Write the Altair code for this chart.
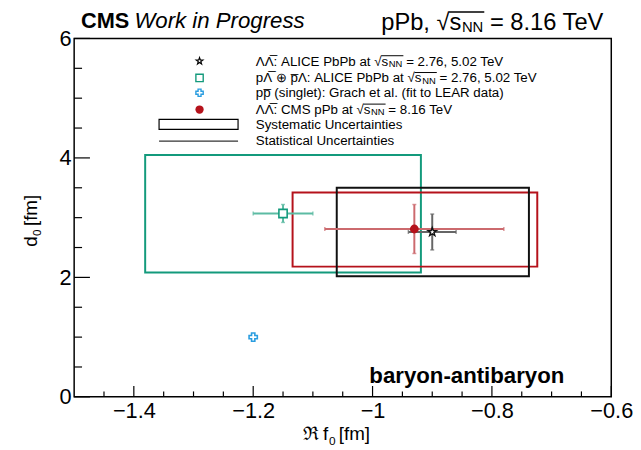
import altair as alt
import pandas as pd

FONT = "Liberation Sans"

# ---------------- data ----------------
names = ["ALICE LL", "ALICE pL", "Grach pp", "CMS LL"]
f0 = [-0.90, -1.15, -1.20, -0.93]
d0 = [2.76, 3.07, 1.00, 2.81]
# statistical uncertainties (absolute)
f0_stat = [0.04, 0.05, 0.0, 0.15]
d0_stat = [0.30, 0.15, 0.0, 0.41]
# systematic boxes (low / high)
sys_names = ["ALICE pL", "CMS LL", "ALICE LL"]
sys_f0_lo = [-1.381, -1.134, -1.060]
sys_f0_hi = [-0.919, -0.724, -0.738]
sys_d0_lo = [2.08, 2.18, 2.02]
sys_d0_hi = [4.05, 3.42, 3.50]

x_major = [-1.4, -1.2, -1.0, -0.8, -0.6]
x_minor = [-1.45, -1.35, -1.3, -1.25, -1.15, -1.1, -1.05, -0.95, -0.9, -0.85, -0.75, -0.7, -0.65]
y_major = [0, 2, 4, 6]
y_minor = [0.5, 1, 1.5, 2.5, 3, 3.5, 4.5, 5, 5.5]

# ---------------- styling ----------------
COL = {"ALICE LL": "#111111", "ALICE pL": "#139a7c", "Grach pp": "#2a9de0", "CMS LL": "#b5121b"}
BAR = {"ALICE LL": "#666666", "ALICE pL": "#5cbba3", "Grach pp": "#2a9de0", "CMS LL": "#cc6a6e"}
STAR = "M0,-1L0.235,-0.324L0.951,-0.309L0.380,0.124L0.588,0.809L0,0.4L-0.588,0.809L-0.380,0.124L-0.951,-0.309L-0.235,-0.324Z"

W, H = 544, 363
xs = alt.Scale(domain=[-1.5, -0.6], nice=False, zero=False)
ys = alt.Scale(domain=[0, 6], nice=False, zero=False)
AX = alt.Axis(values=x_major, ticks=False, domain=False, grid=False, labelFontSize=22, labelFont=FONT,
              labelColor="black", format="~g", labelPadding=4, labelFlush=False, labelOverlap=False, title=None)
AY = alt.Axis(values=y_major, ticks=False, domain=False, grid=False, labelFontSize=22, labelFont=FONT,
              labelColor="black", labelPadding=3, labelFlush=False, labelOverlap=False, title=None)

df = pd.DataFrame({"name": names, "f0": f0, "d0": d0})
df["xlo"] = [a - b for a, b in zip(f0, f0_stat)]
df["xhi"] = [a + b for a, b in zip(f0, f0_stat)]
df["ylo"] = [a - b for a, b in zip(d0, d0_stat)]
df["yhi"] = [a + b for a, b in zip(d0, d0_stat)]
sysdf = pd.DataFrame({"name": sys_names, "xlo": sys_f0_lo, "xhi": sys_f0_hi,
                      "ylo": sys_d0_lo, "yhi": sys_d0_hi})

X = lambda f: alt.X(f, type="quantitative", scale=xs, axis=AX)
Y = lambda f: alt.Y(f, type="quantitative", scale=ys, axis=AY)

one = pd.DataFrame({"k": [0]})
layers = []

# inward ticks
xmaj = pd.DataFrame({"v": x_major})
xmin = pd.DataFrame({"v": x_minor})
ymaj = pd.DataFrame({"v": y_major})
ymin = pd.DataFrame({"v": y_minor})
layers.append(alt.Chart(xmaj).mark_rule(color="black", strokeWidth=1.2).encode(x=X("v"), y=alt.value(H), y2=alt.value(H - 11)))
layers.append(alt.Chart(xmin).mark_rule(color="black", strokeWidth=1.2).encode(x=X("v"), y=alt.value(H), y2=alt.value(H - 5.5)))
layers.append(alt.Chart(ymaj).mark_rule(color="black", strokeWidth=1.2).encode(y=Y("v"), x=alt.value(0), x2=alt.value(16)))
layers.append(alt.Chart(ymin).mark_rule(color="black", strokeWidth=1.2).encode(y=Y("v"), x=alt.value(0), x2=alt.value(8)))

# systematic boxes
for n in sys_names:
    layers.append(alt.Chart(sysdf[sysdf.name == n]).mark_rect(filled=False, stroke=COL[n], strokeWidth=2).encode(
        x=X("xlo"), x2="xhi", y=Y("ylo"), y2="yhi"))

# statistical error bars with caps
for n in ["ALICE pL", "CMS LL", "ALICE LL"]:
    d = df[df.name == n]
    layers.append(alt.Chart(d).mark_rule(color=BAR[n], strokeWidth=2).encode(x=X("xlo"), x2="xhi", y=Y("d0")))
    layers.append(alt.Chart(d).mark_rule(color=BAR[n], strokeWidth=2).encode(x=X("f0"), y=Y("ylo"), y2="yhi"))
    for f in ["xlo", "xhi"]:
        layers.append(alt.Chart(d).mark_tick(color=BAR[n], orient="vertical", size=4, thickness=1.5).encode(x=X(f), y=Y("d0")))
    for f in ["ylo", "yhi"]:
        layers.append(alt.Chart(d).mark_tick(color=BAR[n], orient="horizontal", size=4, thickness=1.5).encode(x=X("f0"), y=Y(f)))

# markers
layers.append(alt.Chart(df[df.name == "ALICE pL"]).mark_point(shape="square", filled=True, fill="white", stroke=COL["ALICE pL"], strokeWidth=1.6, size=70, opacity=1).encode(x=X("f0"), y=Y("d0")))
layers.append(alt.Chart(df[df.name == "Grach pp"]).mark_point(shape="cross", filled=True, fill="white", stroke=COL["Grach pp"], strokeWidth=1.6, size=70, opacity=1).encode(x=X("f0"), y=Y("d0")))
layers.append(alt.Chart(df[df.name == "CMS LL"]).mark_point(shape="circle", filled=True, fill=COL["CMS LL"], strokeWidth=0, size=80, opacity=1).encode(x=X("f0"), y=Y("d0")))
layers.append(alt.Chart(df[df.name == "ALICE LL"]).mark_point(shape=STAR, filled=True, fill="white", stroke=COL["ALICE LL"], strokeWidth=1.4, size=80, opacity=1).encode(x=X("f0"), y=Y("d0")))

# ---------------- texts (pixel layout) ----------------
OX, OY = 75, 36  # page position of the plot origin

AW = {" ": 278, "!": 278, "(": 333, ")": 333, ",": 278, "-": 333, ".": 278, ":": 278, "=": 584, "[": 278, "]": 278,
      "Λ": 667, "⊕": 838, "√": 549, "\u0305": 0}
for c in "0123456789":
    AW[c] = 556
AW.update(dict(zip("ABCDEFGHIJKLMNOPQRSTUVWXYZ",
                   [667, 667, 722, 722, 667, 611, 778, 722, 278, 500, 667, 556, 833, 722, 778, 667, 778, 722, 667, 611, 722, 667, 944, 667, 667, 611])))
AW.update(dict(zip("abcdefghijklmnopqrstuvwxyz",
                   [556, 556, 500, 556, 556, 278, 556, 556, 222, 222, 500, 222, 833, 556, 556, 556, 556, 333, 500, 278, 556, 500, 722, 500, 500, 500])))


def tw(s, size):
    return sum(AW.get(c, 600) for c in s) * size / 1000.0


def txt(text, x, y, size, weight="normal", style="normal", align="left", angle=0, baseline="alphabetic", color="black"):
    return alt.Chart(one).mark_text(text=text, align=align, baseline=baseline, fontSize=size, fontWeight=weight,
                                    fontStyle=style, font=FONT, angle=angle, color=color).encode(
        x=alt.value(x - OX), y=alt.value(y - OY))


def hbar(x1, x2, y, color="black", w=1):
    return alt.Chart(one).mark_rule(color=color, strokeWidth=w).encode(
        x=alt.value(x1 - OX), x2=alt.value(x2 - OX), y=alt.value(y - OY))


def sqrt_line(pre, x, y, size, subsize, subdy, post):
    """text 'pre' ending in '√s', subscript NN, then 'post'"""
    out = [txt(pre, x, y, size)]
    xs_end = x + tw(pre, size)
    out.append(txt("NN", xs_end + 0.5, y + subdy, subsize))
    nn_end = xs_end + 0.5 + tw("NN", subsize)
    out.append(txt(post, nn_end + 0.28 * size, y, size))
    x_root = x + tw(pre[:-1], size)  # right edge of √
    out.append(hbar(x_root - 0.5, nn_end + 1, y - 0.74 * size, w=max(1, size / 15)))
    return out


# header
layers.append(txt("CMS", 82, 25, 22, weight="bold"))
layers.append(txt("Work in Progress", 136, 25, 22.5, style="italic"))
layers += sqrt_line("pPb, √s", 386, 27, 24, 15, 2.5, "= 8.16 TeV")

# legend
LS = 13.5
LX = 259
rows = [59, 76, 91, 108, 123, 139]
bl = [r + 4.5 for r in rows]
layers += sqrt_line("ΛΛ̅: ALICE PbPb at √s", LX, bl[0], LS, 9.5, 1.5, "= 2.76, 5.02 TeV")
layers += sqrt_line("pΛ̅ ⊕ p̅Λ: ALICE PbPb at √s", LX, bl[1], LS, 9.5, 1.5, "= 2.76, 5.02 TeV")
layers.append(txt(" pp̅ (singlet): Grach et al. (fit to LEAR data)", LX, bl[2], LS))
layers += sqrt_line("ΛΛ̅: CMS pPb at √s", LX, bl[3], LS, 9.5, 1.5, "= 8.16 TeV")
layers.append(txt("Systematic Uncertainties", LX, bl[4], LS))
layers.append(txt("Statistical Uncertainties", LX, bl[5], LS))

MX = 202
layers.append(alt.Chart(one).mark_point(shape=STAR, filled=True, fill="white", stroke="black", strokeWidth=1.2, size=50, opacity=1).encode(x=alt.value(MX - OX), y=alt.value(rows[0] - OY)))
layers.append(alt.Chart(one).mark_point(shape="square", filled=True, fill="white", stroke=COL["ALICE pL"], strokeWidth=1.4, size=55, opacity=1).encode(x=alt.value(MX - OX), y=alt.value(rows[1] - OY)))
layers.append(alt.Chart(one).mark_point(shape="cross", filled=True, fill="white", stroke=COL["Grach pp"], strokeWidth=1.4, size=55, opacity=1).encode(x=alt.value(MX - OX), y=alt.value(rows[2] - OY)))
layers.append(alt.Chart(one).mark_point(shape="circle", filled=True, fill=COL["CMS LL"], strokeWidth=0, size=70, opacity=1).encode(x=alt.value(MX - OX), y=alt.value(rows[3] - OY)))
layers.append(alt.Chart(one).mark_rect(filled=False, stroke="black", strokeWidth=1.2).encode(
    x=alt.value(161 - OX), x2=alt.value(241 - OX), y=alt.value(118 - OY), y2=alt.value(128 - OY)))
layers.append(hbar(161, 241, 140, color="#333333", w=1.2))

# in-plot label
layers.append(txt("baryon-antibaryon", 374, 385, 22.5, weight="bold"))

# axis titles
layers.append(txt("ℜ", 307, 443, 19))
layers.append(txt("f", 327, 443, 19))
layers.append(txt("0", 333, 448, 12))
layers.append(txt("[fm]", 343, 443, 19))
layers.append(txt("d", 37, 247, 19, angle=270))
layers.append(txt("0", 41, 236, 12, angle=270))
layers.append(txt("[fm]", 37, 226, 19, angle=270))

chart = alt.layer(*layers).properties(
    width=W, height=H,
    padding={"left": 67, "top": 28, "right": 22, "bottom": 52},
    autosize=alt.AutoSizeParams(type="none"),
).configure_view(stroke="black", strokeWidth=1.5)

chart.save("out.html", embed_options={"renderer": "svg", "actions": False})
